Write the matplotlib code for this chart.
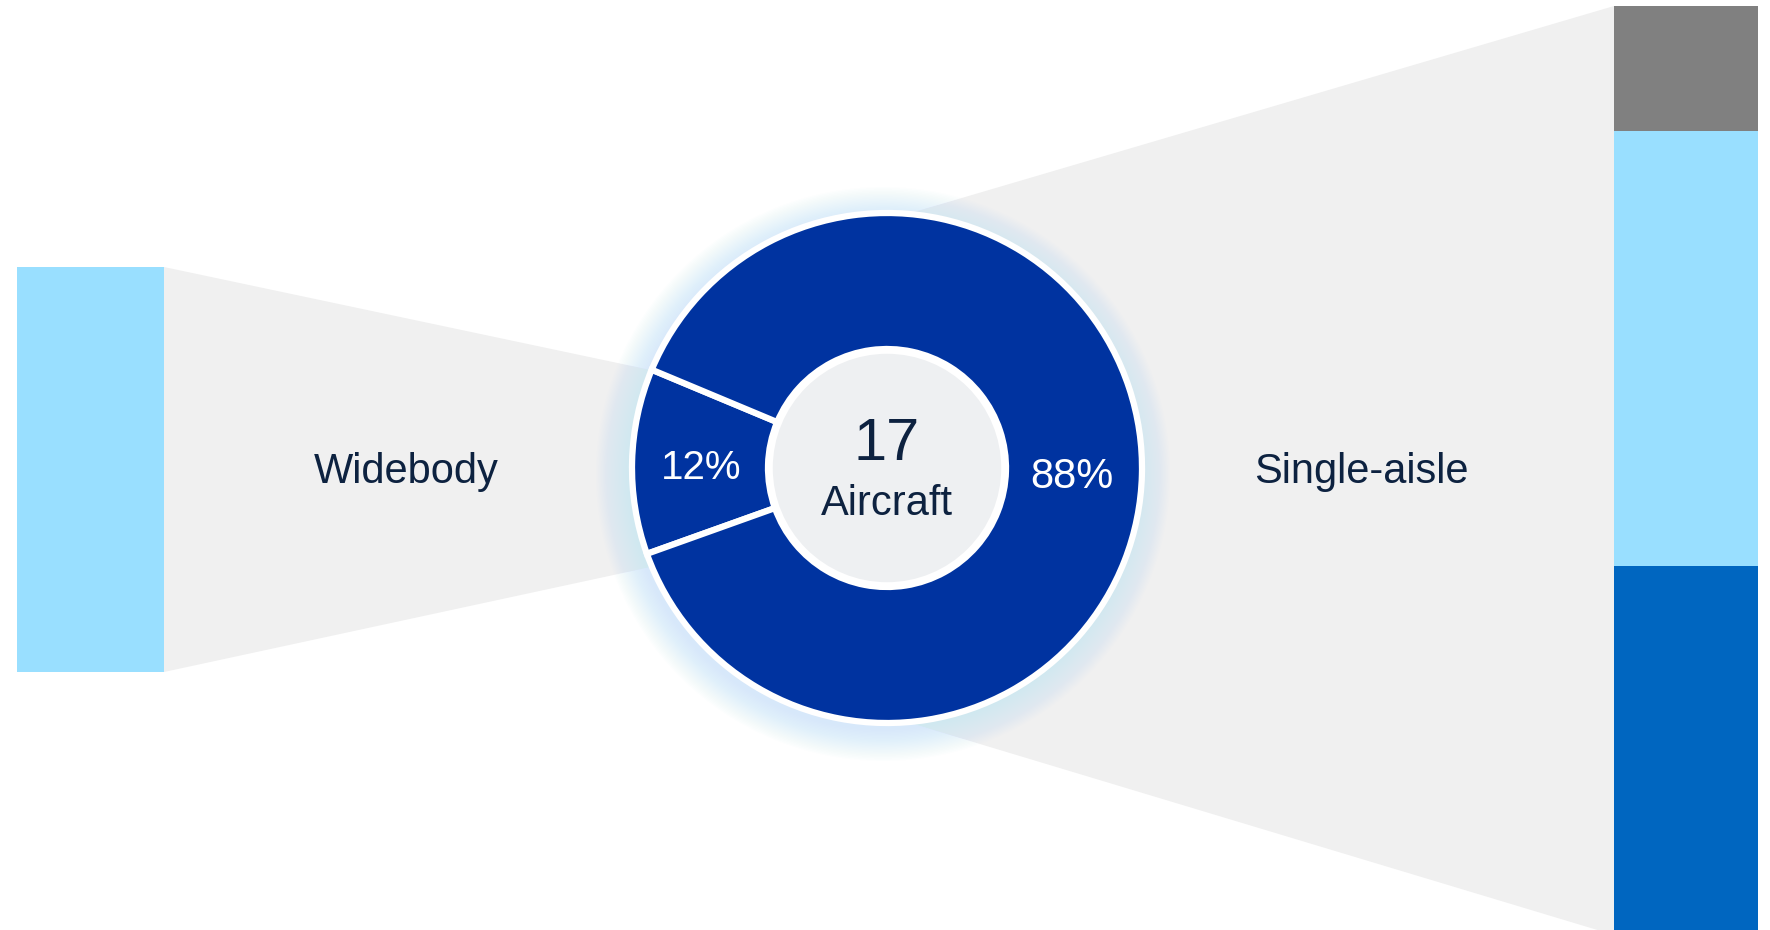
import numpy as np
import matplotlib
matplotlib.use("Agg")
import matplotlib.pyplot as plt
from matplotlib.patches import Polygon, Circle, Rectangle

# data
categories = ["Widebody", "Single-aisle"]
aircraft = [2, 15]
pct_labels = ["12%", "88%"]
# stacked breakdown (top to bottom) for the side bars
stack_colors = ["#808080", "#99dfff", "#0066c0"]
widebody_stack = [0, 2, 0]
single_aisle_stack = [2, 7, 6]

NAVY = "#0d2240"
DONUT = "#0033a0"
FUNNEL = "#f0f0f0"

plt.rcParams["font.family"] = ["Liberation Sans", "DejaVu Sans"]

fig = plt.figure(figsize=(17.7, 9.3), dpi=100)
ax = fig.add_axes([0, 0, 1, 1])

cx, cy = 887, 468
r_out, r_in = 255, 119


def stacked_bar(x0, x1, y0, y1, values):
    total = sum(values)
    y = y0
    for v, c in zip(values, stack_colors):
        h = (y1 - y0) * v / total
        if h > 0:
            ax.add_patch(Rectangle((x0, y), x1 - x0, h, color=c, lw=0, zorder=3))
        y += h


# funnels (behind the donut)
ax.add_patch(Polygon([(164, 267), (cx, 420), (cx, 516), (164, 672)],
                     closed=True, color=FUNNEL, lw=0, zorder=1))
ax.add_patch(Polygon([(cx, 220), (1614, 6), (1614, 935), (cx, 716)],
                     closed=True, color=FUNNEL, lw=0, zorder=1))

# side bars
stacked_bar(17, 164, 267, 672, widebody_stack)
stacked_bar(1614, 1758, 6, 940, single_aisle_stack)

# soft glow round the donut, a bit lower than the ring
for r in np.linspace(r_out + 32, r_out, 24):
    ax.add_patch(Circle((cx - 4, cy + 6), r, color="#c4e8fa", alpha=0.035, lw=0, zorder=2))

# donut
share = aircraft[0] / sum(aircraft) * 360
wedges, _ = ax.pie(aircraft, center=(cx, cy), radius=r_out, startangle=181.5 - share / 2,
                   colors=[DONUT, DONUT],
                   wedgeprops=dict(width=r_out - r_in, edgecolor="white", linewidth=4.5))
for w in wedges:
    w.set_zorder(4)
ax.add_patch(Circle((cx, cy), r_in - 2, facecolor="#eef0f2", edgecolor="white",
                    lw=4, zorder=5))

# texts
ax.text(cx, 444, str(sum(aircraft)), ha="center", va="center", fontsize=43, color=NAVY, zorder=6)
ax.text(cx, 504, "Aircraft", ha="center", va="center", fontsize=30, color=NAVY, zorder=6)
ax.text(701, 468, pct_labels[0], ha="center", va="center", fontsize=29, color="white", zorder=6)
ax.text(1072, 477, pct_labels[1], ha="center", va="center", fontsize=30, color="white", zorder=6)
ax.text(406, 472, categories[0], ha="center", va="center", fontsize=30, color=NAVY, zorder=6)
ax.text(1361, 472, categories[1], ha="center", va="center", fontsize=30, color=NAVY, zorder=6)

ax.set_xlim(0, 1770)
ax.set_ylim(930, 0)
ax.set_aspect("equal")
ax.axis("off")

fig.savefig("out.png", dpi=100, facecolor="white")
